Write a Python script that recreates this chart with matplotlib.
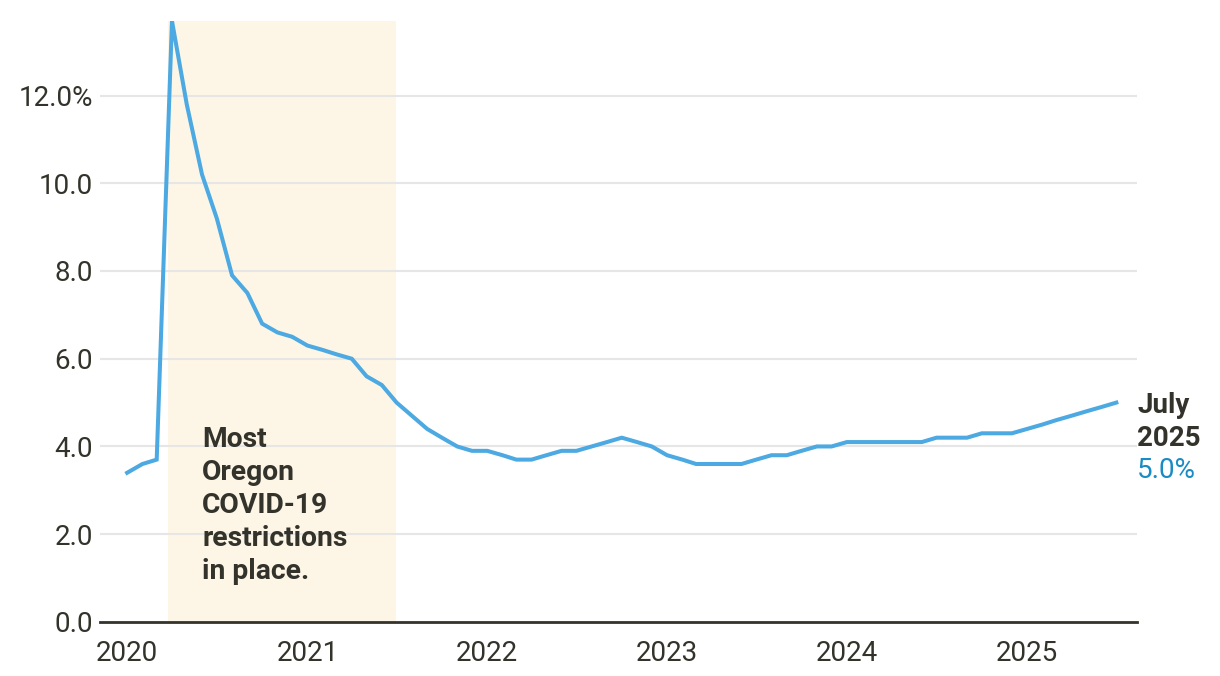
import matplotlib.pyplot as plt
import matplotlib.dates as mdates
import pandas as pd

# Oregon unemployment rate, seasonally adjusted, Jan 2020 - Jul 2025
months = pd.date_range("2020-01-01", "2025-07-01", freq="MS")
rate = [
    3.4, 3.6, 3.7, 13.7, 11.8, 10.2, 9.2, 7.9, 7.5, 6.8, 6.6, 6.5,   # 2020
    6.3, 6.2, 6.1, 6.0, 5.6, 5.4, 5.0, 4.7, 4.4, 4.2, 4.0, 3.9,      # 2021
    3.9, 3.8, 3.7, 3.7, 3.8, 3.9, 3.9, 4.0, 4.1, 4.2, 4.1, 4.0,      # 2022
    3.8, 3.7, 3.6, 3.6, 3.6, 3.6, 3.7, 3.8, 3.8, 3.9, 4.0, 4.0,      # 2023
    4.1, 4.1, 4.1, 4.1, 4.1, 4.1, 4.2, 4.2, 4.2, 4.3, 4.3, 4.3,      # 2024
    4.4, 4.5, 4.6, 4.7, 4.8, 4.9, 5.0,                               # 2025
]
y_ticks = [0, 2, 4, 6, 8, 10, 12]
y_labels = ["0.0", "2.0", "4.0", "6.0", "8.0", "10.0", "12.0%"]
year_ticks = pd.date_range("2020-01-01", "2025-01-01", freq="YS")
covid_start = pd.Timestamp("2020-03-23")
covid_end = pd.Timestamp("2021-06-30")

TEXT = "#33332b"
LINE = "#4ca9e1"

plt.rcParams["font.family"] = ["Roboto", "DejaVu Sans"]

fig = plt.figure(figsize=(12.2, 6.76), dpi=100)
ax = fig.add_axes([0.082, 0.08, 0.85, 0.889])

# periode met covid-maatregelen
ax.axvspan(covid_start, covid_end, color="#fdf6e7", zorder=0, lw=0)

ax.plot(months, rate, color=LINE, lw=2.9, solid_joinstyle="miter", zorder=3)

ax.set_ylim(0, 13.7)
ax.set_xlim(pd.Timestamp("2019-11-07"), pd.Timestamp("2025-08-12"))

ax.set_yticks(y_ticks)
ax.set_yticklabels(y_labels)
ax.set_xticks(year_ticks)
ax.xaxis.set_major_formatter(mdates.DateFormatter("%Y"))
ax.tick_params(axis="both", length=0, labelsize=20, labelcolor=TEXT)
ax.tick_params(axis="y", pad=5)
ax.tick_params(axis="x", pad=13)

for v in y_ticks[1:]:
    ax.axhline(v, color="#e6e6e6", lw=1.5, zorder=1)

for side in ["top", "right", "left"]:
    ax.spines[side].set_visible(False)
ax.spines["bottom"].set_color(TEXT)
ax.spines["bottom"].set_linewidth(2)
ax.spines["bottom"].set_zorder(4)

ax.text(pd.Timestamp("2020-06-01"), 4.47, "Most\nOregon\nCOVID-19\nrestrictions\nin place.",
        fontsize=20.3, fontweight="bold", color=TEXT, va="top", ha="left",
        linespacing=1.29, zorder=5)

ax.annotate("July\n2025", xy=(months[-1], rate[-1]), xytext=(15, 7.5),
            textcoords="offset points", fontsize=20, fontweight="bold",
            color=TEXT, va="top", ha="left", linespacing=1.3,
            annotation_clip=False)
ax.annotate(f"{rate[-1]:.1f}%", xy=(months[-1], rate[-1]), xytext=(15, -39),
            textcoords="offset points", fontsize=20, color="#1a8bc4",
            va="top", ha="left", annotation_clip=False)

fig.savefig("out.png", dpi=100)
